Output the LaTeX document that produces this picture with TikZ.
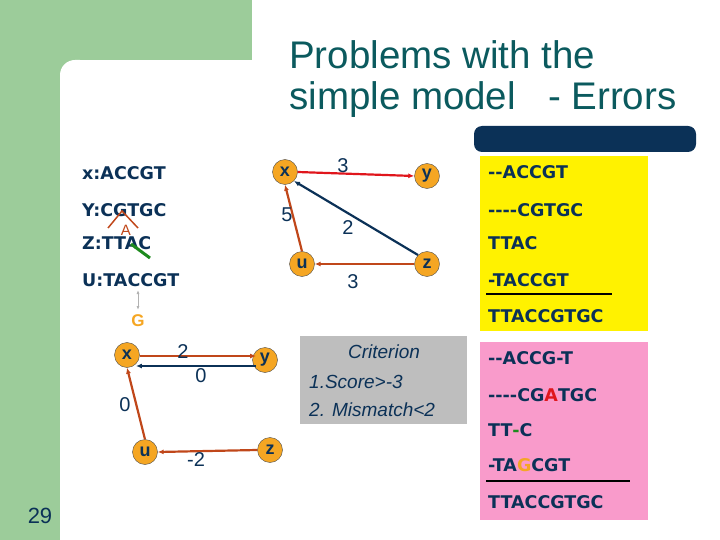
\documentclass[tikz,border=0pt]{standalone}
\usepackage{fontspec}
\setmainfont{Liberation Sans}
\newfontfamily\seqf{DejaVu Sans}
\usetikzlibrary{arrows.meta}
\definecolor{bggreen}{HTML}{9CCC9A}
\definecolor{navy}{HTML}{0B3157}
\definecolor{teal}{HTML}{0B5A5E}
\definecolor{orng}{HTML}{F5A623}
\definecolor{brn}{HTML}{C0471A}
\definecolor{redd}{HTML}{E0161C}
\definecolor{pinkb}{HTML}{F99BCB}
\definecolor{grayb}{HTML}{BEBEBE}
\definecolor{gr}{HTML}{1E8A1E}
\tikzset{
 vert/.style={circle,fill=orng,draw=black!70,line width=0.4pt,minimum size=25pt,inner sep=0pt,font=\bfseries\fontsize{18}{18}\selectfont,text=navy},
 seq/.style={anchor=west,inner sep=0pt,font=\seqf\bfseries\fontsize{17.5}{20}\selectfont,text=navy},
 lbl/.style={font=\fontsize{20}{20}\selectfont,text=navy,inner sep=0pt},
 crit/.style={text=navy,font=\itshape\fontsize{19}{19}\selectfont,inner sep=0pt},
 ed/.style={line width=2.2pt,-{Latex[length=6pt,width=5pt]}},
}
\begin{document}
\begin{tikzpicture}[x=1pt,y=-1pt]
\useasboundingbox (0,0) rectangle (720,540);
\fill[bggreen] (0,0) rectangle (252,60);
\fill[bggreen] (0,0) rectangle (60,540);
\fill[bggreen] (60,60) rectangle (80,80);
\fill[white] (60,540) -- (60,75) arc[start angle=180,end angle=270,radius=15] -- (80,60) -- (80,540) -- cycle;
\node[anchor=north west,align=left,text=teal,inner sep=0pt,font=\fontsize{38.5}{41}\selectfont] (title) at (289,40) {Problems with the\\simple model\ \ \ - Errors};
\fill[navy,rounded corners=8pt] (474,126) rectangle (696,152);
% left sequences
\node[seq] (sx) at (82,173) {x:ACCGT};
\node[seq] (sy) at (82,210) {Y:CGTGC};
\node[seq] (sz) at (82,243) {Z:TTAC};
\node[seq] (su) at (82,280) {U:TACCGT};
\coordinate (c1) at (108,228); \coordinate (c2) at (122,211); \coordinate (c3) at (138,228);
\draw[brn,line width=1.5pt] (c1) -- (c2) -- (c3);
\node[text=brn,font=\fontsize{15}{15}\selectfont,inner sep=0pt] (ins) at (126,230) {A};
\coordinate (g1) at (131,244); \coordinate (g2) at (150,258);
\draw[gr,line width=3pt] (g1) -- (g2);
\node[text=orng,font=\bfseries\fontsize{17}{17}\selectfont,inner sep=0pt] (gg) at (138,321) {G};
\coordinate (ga) at (138,290); \coordinate (gb) at (138,310);
\draw[gray!60,line width=1pt,{Latex[length=4pt]}-{Latex[length=4pt]}] (ga) -- (gb);
% graph 1
\node[vert] (x1) at (285,172) {x};
\node[vert] (y1) at (427,176) {y};
\node[vert] (u1) at (302,264) {u};
\node[vert] (z1) at (427,264) {z};
\draw[ed,redd] (x1.east) -- (y1.west) ;
\draw[ed,brn] (u1.north) -- (x1.south);
\draw[ed,navy] (z1.north west) -- (x1.south east);
\draw[ed,brn] (z1.west) -- (u1.east);
\node[lbl] (l13) at (343,166) {3};
\node[lbl] (l15) at (287,215) {5};
\node[lbl] (l12) at (348,228) {2};
\node[lbl] (l33) at (353,282) {3};
% graph 2
\node[vert] (x2) at (127,355) {x};
\node[vert] (y2) at (265,360) {y};
\node[vert] (u2) at (145,452) {u};
\node[vert] (z2) at (270,450) {z};
\draw[ed,brn] ([yshift=-1pt]x2.east) -- ([yshift=-1pt]y2.north west |- x2.east);
\draw[ed,navy] (y2.south west |- 0,366) -- (x2.south east |- 0,366);
\draw[ed,brn] (u2.north) -- (x2.south);
\draw[ed,brn] (z2.west) -- (u2.east);
\node[lbl] (l22) at (183,352) {2};
\node[lbl] (l20) at (201,376) {0};
\node[lbl] (l2u) at (125,405) {0};
\node[lbl] (l2z) at (196,460) {-2};
% criterion
\fill[grayb] (300,336) rectangle (467,424);
\node[crit] (cr) at (384,352) {Criterion};
\node[crit,anchor=west] (c1t) at (309,382) {1.Score>-3};
\node[crit,anchor=west] (c2t) at (309,410) {2. Mismatch<2};
% yellow
\fill[yellow] (480,156) rectangle (648,331);
\node[seq] (a1) at (488,172) {-{}-ACCGT};
\node[seq] (a2) at (488,210) {-{}-{}-{}-CGTGC};
\node[seq] (a3) at (488,243) {TTAC};
\node[seq] (a4) at (488,280) {-TACCGT};
\draw[black,line width=1.5pt] (486,294) -- (612,294);
\node[seq] (a5) at (488,316) {TTACCGTGC};
% pink
\fill[pinkb] (480,342) rectangle (648,520);
\node[seq] (b1) at (488,358) {-{}-ACCG-T};
\node[seq] (b2) at (488,395) {-{}-{}-{}-CG\textcolor{redd}{A}TGC};
\node[seq] (b3) at (488,430) {TT\textcolor{gr}{-}C};
\node[seq] (b4) at (488,465) {-TA\textcolor{orng}{G}CGT};
\draw[black,line width=1.5pt] (486,481) -- (630,481);
\node[seq] (b5) at (488,502) {TTACCGTGC};
\node[text=navy,font=\fontsize{22}{22}\selectfont,inner sep=0pt] (pg) at (40,516) {29};
\end{tikzpicture}
\end{document}
